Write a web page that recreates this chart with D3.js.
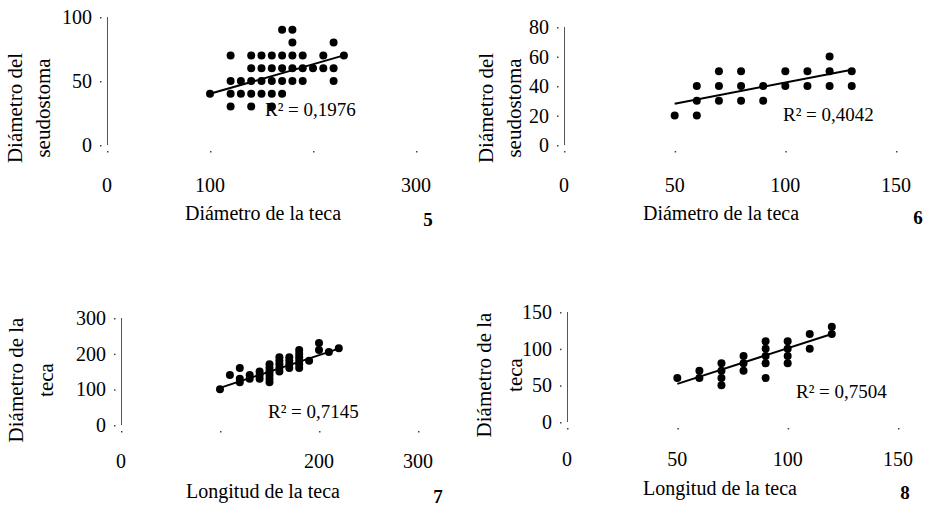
<!DOCTYPE html>
<html>
<head>
<meta charset="utf-8">
<script src="https://cdn.jsdelivr.net/npm/d3@7"></script>
<style>
    body { margin: 0; background: #fff; }
    svg { display: block; }
    svg text { font-family: "Liberation Serif", "Times New Roman", serif; fill: #000; }
</style>
</head>
<body>
<div id="chart"></div>
<script>
// Four scatter plots with linear trend lines (panels 5-8)

// Panel 5: Diámetro de la teca vs Diámetro del seudostoma
const p5X = [170, 180,
             180, 220,
             120, 140, 150, 160, 170, 180, 190, 210, 230,
             140, 150, 160, 170, 180, 190, 200, 210, 220,
             120, 130, 140, 150, 160, 170, 180, 190, 220,
             100, 120, 130, 140, 150, 160, 170,
             120, 140, 160];
const p5Y = [90, 90,
             80, 80,
             70, 70, 70, 70, 70, 70, 70, 70, 70,
             60, 60, 60, 60, 60, 60, 60, 60, 60,
             50, 50, 50, 50, 50, 50, 50, 50, 50,
             40, 40, 40, 40, 40, 40, 40,
             30, 30, 30];
const p5TrendX = [100, 230];
const p5TrendY = [40, 70];

// Panel 6
const p6X = [50, 60, 60, 60, 70, 70, 70, 80, 80, 80, 90, 90, 100, 100, 110, 110, 120, 120, 120, 130, 130];
const p6Y = [20, 20, 30, 40, 30, 40, 50, 30, 40, 50, 30, 40, 40, 50, 40, 50, 40, 50, 60, 40, 50];
const p6TrendX = [50, 130];
const p6TrendY = [28, 51];

// Panel 7: Longitud de la teca vs Diámetro de la teca
const p7X = [100, 110, 120, 120, 120, 130, 130, 140, 140, 140,
             150, 150, 150, 150, 150, 150,
             160, 160, 160, 160, 160,
             170, 170, 170, 170,
             180, 180, 180, 180, 180, 180,
             190, 200, 200, 210, 220];
const p7Y = [100, 140, 160, 130, 120, 140, 130, 150, 140, 130,
             170, 160, 150, 140, 130, 120,
             190, 180, 170, 160, 150,
             190, 180, 170, 160,
             210, 200, 190, 180, 170, 160,
             180, 230, 210, 205, 215];
const p7TrendX = [100, 220];
const p7TrendY = [104, 214];

// Panel 8
const p8X = [50, 60, 60, 70, 70, 70, 70, 80, 80, 80, 90, 90, 90, 90, 90, 100, 100, 100, 100, 110, 110, 120, 120];
const p8Y = [60, 70, 60, 80, 70, 60, 50, 90, 80, 70, 110, 100, 90, 80, 60, 110, 100, 90, 80, 120, 100, 130, 120];
const p8TrendX = [50, 120];
const p8TrendY = [52, 120];

// Tick values and labels
const ticks300 = [0, 100, 200, 300];
const ticks150 = [0, 50, 100, 150];
const p5XLabels = ['0', '100', '', '300'];
const p7XLabels = ['0', '', '200', '300'];
const p6YTicks = [0, 20, 40, 60, 80];
const p5YTicks = [0, 50, 100];
const p7YTicks = [0, 100, 200, 300];
const p8YTicks = [0, 50, 100, 150];

const width = 935;
const height = 509;

const panels = [
    {
        num: '5', xs: p5X, ys: p5Y, tx: p5TrendX, ty: p5TrendY,
        xDomain: [0, 300], xRange: [107, 416], xTicks: ticks300, xLabels: p5XLabels,
        yDomain: [0, 100], yRange: [145, 17], yTicks: p5YTicks,
        r2: '0,1976', r2At: [265, 116],
        xTitle: 'Diámetro de la teca', xTitleAt: [263, 220],
        yTitle: ['Diámetro del', 'seudostoma'], yTitleX: [15, 43], yTitleY: 108,
        numAt: [428, 226], xLabelY: 185
    },
    {
        num: '6', xs: p6X, ys: p6Y, tx: p6TrendX, ty: p6TrendY,
        xDomain: [0, 150], xRange: [564, 896], xTicks: ticks150, xLabels: ticks150.map(String),
        yDomain: [0, 80], yRange: [145, 27], yTicks: p6YTicks,
        r2: '0,4042', r2At: [783, 121],
        xTitle: 'Diámetro de la teca', xTitleAt: [721, 220],
        yTitle: ['Diámetro del', 'seudostoma'], yTitleX: [486, 514], yTitleY: 108,
        numAt: [918, 224], xLabelY: 185
    },
    {
        num: '7', xs: p7X, ys: p7Y, tx: p7TrendX, ty: p7TrendY,
        xDomain: [0, 300], xRange: [121, 418], xTicks: ticks300, xLabels: p7XLabels,
        yDomain: [0, 300], yRange: [425, 318], yTicks: p7YTicks,
        r2: '0,7145', r2At: [268, 418],
        xTitle: 'Longitud de la teca', xTitleAt: [263, 498],
        yTitle: ['Diámetro de la', 'teca'], yTitleX: [16, 46], yTitleY: 380,
        numAt: [438, 503], xLabelY: 461
    },
    {
        num: '8', xs: p8X, ys: p8Y, tx: p8TrendX, ty: p8TrendY,
        xDomain: [0, 150], xRange: [567, 898], xTicks: ticks150, xLabels: ticks150.map(String),
        yDomain: [0, 150], yRange: [422, 312], yTicks: p8YTicks,
        r2: '0,7504', r2At: [796, 398],
        xTitle: 'Longitud de la teca', xTitleAt: [720, 495],
        yTitle: ['Diámetro de la', 'teca'], yTitleX: [484, 515], yTitleY: 375,
        numAt: [905, 499], xLabelY: 459
    }
];

const svg = d3.select('#chart')
    .append('svg')
    .attr('width', width)
    .attr('height', height);

panels.forEach(p => {
    const x = d3.scaleLinear().domain(p.xDomain).range(p.xRange);
    const y = d3.scaleLinear().domain(p.yDomain).range(p.yRange);
    const g = svg.append('g');
    const x0 = p.xRange[0];
    const yBottom = p.yRange[0];

    // vertical axis line
    g.append('line')
        .attr('x1', x0 + 0.5).attr('x2', x0 + 0.5)
        .attr('y1', y(p.yDomain[1])).attr('y2', y(p.yDomain[0]))
        .attr('stroke', '#555').attr('stroke-width', 1);

    // y tick marks (tiny dots) and labels
    g.selectAll('.ytick').data(p.yTicks).enter().append('rect')
        .attr('x', x0 - 7).attr('y', d => y(d))
        .attr('width', 1.5).attr('height', 1.5).attr('fill', '#444');
    g.selectAll('.ylab').data(p.yTicks).enter().append('text')
        .attr('x', x0 - 15).attr('y', d => y(d))
        .attr('dy', '0.35em')
        .attr('text-anchor', 'end')
        .attr('font-size', '20px')
        .text(d => d);

    // x tick marks and labels
    g.selectAll('.xtick').data(p.xTicks).enter().append('rect')
        .attr('x', d => x(d)).attr('y', yBottom + 6)
        .attr('width', 1.5).attr('height', 1.5).attr('fill', '#444');
    g.selectAll('.xlab').data(p.xTicks).enter().append('text')
        .attr('x', d => x(d)).attr('y', p.xLabelY)
        .attr('dy', '0.35em')
        .attr('text-anchor', 'middle')
        .attr('font-size', '20px')
        .text((d, i) => p.xLabels[i]);

    // points
    g.selectAll('circle').data(p.xs).enter().append('circle')
        .attr('cx', d => x(d))
        .attr('cy', (d, i) => y(p.ys[i]))
        .attr('r', 4)
        .attr('fill', '#000');

    // linear trend line
    const trend = p.tx.map((d, i) => [d, p.ty[i]]);
    g.append('path')
        .datum(trend)
        .attr('d', d3.line().x(d => x(d[0])).y(d => y(d[1])))
        .attr('stroke', '#000').attr('stroke-width', 2).attr('fill', 'none');

    // R² label
    g.append('text')
        .attr('x', p.r2At[0]).attr('y', p.r2At[1])
        .attr('font-size', '19px')
        .text('R² = ' + p.r2);

    // axis titles
    g.append('text')
        .attr('x', p.xTitleAt[0]).attr('y', p.xTitleAt[1])
        .attr('text-anchor', 'middle')
        .attr('font-size', '20px')
        .text(p.xTitle);
    p.yTitle.forEach((line, i) => {
        g.append('text')
            .attr('transform', `translate(${p.yTitleX[i]},${p.yTitleY}) rotate(-90)`)
            .attr('dy', '0.35em')
            .attr('text-anchor', 'middle')
            .attr('font-size', '21px')
            .text(line);
    });

    // panel number
    g.append('text')
        .attr('x', p.numAt[0]).attr('y', p.numAt[1])
        .attr('text-anchor', 'middle')
        .attr('font-size', '19px')
        .attr('font-weight', 'bold')
        .text(p.num);
});
</script>
</body>
</html>
